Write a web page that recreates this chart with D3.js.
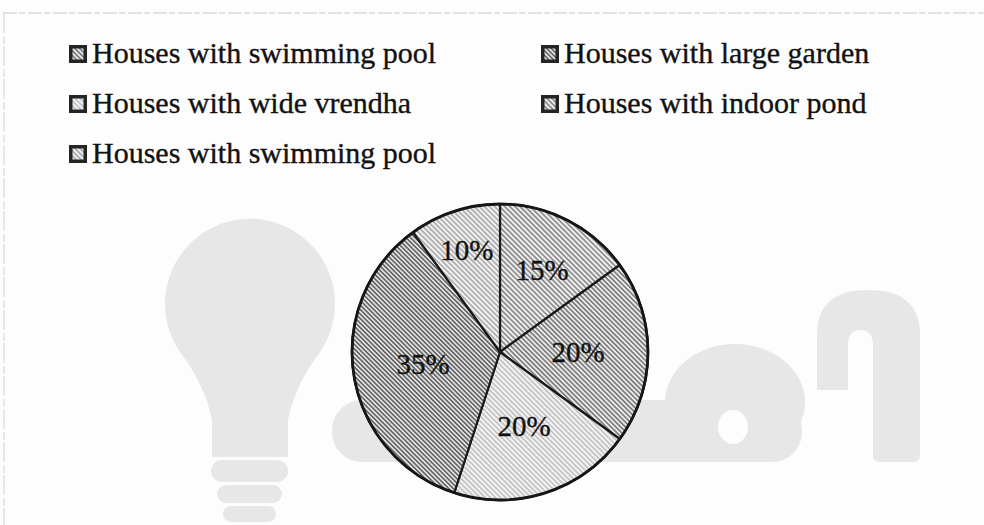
<!DOCTYPE html>
<html>
<head>
<meta charset="utf-8">
<script src="https://cdn.jsdelivr.net/npm/d3@7"></script>
<style>
  html, body { margin: 0; padding: 0; background: #fdfdfd; }
  svg { display: block; }
  text {
    font-family: "Liberation Serif", "Times New Roman", serif;
    fill: #121212;
    stroke: #121212;
    stroke-width: 0.35;
  }
</style>
</head>
<body>
<div class="content"></div>
<script>
//--> Data
const legendLabels = [
  "Houses with swimming pool",
  "Houses with large garden",
  "Houses with wide vrendha",
  "Houses with indoor pond",
  "Houses with swimming pool",
];
const sliceValues = [15, 20, 20, 35, 10];
const sliceLabels = ["15%", "20%", "20%", "35%", "10%"];

//--> Hatch styles for each slice (gap, line width, line colour, background)
const hatchStyles = [
  { gap: 3.6, w: 1.1, color: "#555555", bg: "#f0f0f0" },
  { gap: 3.4, w: 1.2, color: "#505050", bg: "#ebebeb" },
  { gap: 3.6, w: 0.8, color: "#8a8a8a", bg: "#f4f4f4" },
  { gap: 3.2, w: 1.3, color: "#474747", bg: "#e2e2e2" },
  { gap: 3.6, w: 0.9, color: "#6e6e6e", bg: "#f2f2f2" },
];

//--> Set up main elements
const width = 984;
const height = 525;
const cx = 500;
const cy = 352;
const radius = 148;

const svg = d3
  .select(".content")
  .append("svg")
  .attr("width", width)
  .attr("height", height);

const defs = svg.append("defs");

hatchStyles.forEach((s, i) => {
  const p = defs
    .append("pattern")
    .attr("id", `hatch${i}`)
    .attr("patternUnits", "userSpaceOnUse")
    .attr("width", s.gap)
    .attr("height", s.gap)
    .attr("patternTransform", "rotate(-45)");
  p.append("rect").attr("width", s.gap).attr("height", s.gap).attr("fill", s.bg);
  p.append("line")
    .attr("x1", s.gap / 2)
    .attr("x2", s.gap / 2)
    .attr("y1", 0)
    .attr("y2", s.gap)
    .attr("stroke", s.color)
    .attr("stroke-width", s.w);
});

//--> Scan frame
svg.append("line")
  .attr("x1", 3).attr("x2", width).attr("y1", 13).attr("y2", 13)
  .attr("stroke", "#c8c8c8").attr("stroke-width", 1)
  .attr("stroke-dasharray", "14 2 6 3");
svg.append("line")
  .attr("x1", 4).attr("x2", 4).attr("y1", 13).attr("y2", height)
  .attr("stroke", "#d2d2d2").attr("stroke-width", 1)
  .attr("stroke-dasharray", "20 3 8 2");

//--> Watermark (light grey shapes)
const wm = svg.append("g").attr("fill", "#e7e7e7");
wm.append("path")
  .attr("d", "M212 457 L212 420 Q205 385 180 352 A85 85 0 1 1 320 352 Q295 385 288 420 L288 457 Z");
wm.append("rect").attr("x", 211).attr("y", 460).attr("width", 77).attr("height", 22).attr("rx", 11);
wm.append("rect").attr("x", 217).attr("y", 485).attr("width", 65).attr("height", 18).attr("rx", 9);
wm.append("rect").attr("x", 223).attr("y", 506).attr("width", 53).attr("height", 16).attr("rx", 8);
wm.append("rect").attr("x", 332).attr("y", 400).attr("width", 470).attr("height", 62).attr("rx", 30);
wm.append("ellipse").attr("cx", 735).attr("cy", 402).attr("rx", 70).attr("ry", 58);
wm.append("ellipse").attr("cx", 733).attr("cy", 427).attr("rx", 15).attr("ry", 17).attr("fill", "#fdfdfd");
wm.append("path")
  .attr("d", "M817 390 L817 335 Q817 290 868 290 Q920 290 920 335 L920 455 Q920 462 913 462 L880 462 Q873 462 873 455 L873 345 Q873 330 860 330 Q848 330 848 345 L848 390 Z");

//--> Legend
const legend = svg.append("g").attr("id", "legend");
const colX = [69, 541];
const rowY = [45, 95, 145];

const items = legend
  .selectAll("g")
  .data(legendLabels)
  .join("g")
  .attr("transform", (_, i) => `translate(${colX[i % 2]}, ${rowY[Math.floor(i / 2)]})`);

items.append("rect")
  .attr("width", 18)
  .attr("height", 18)
  .attr("fill", "#242424");
items.append("rect")
  .attr("x", 3.5)
  .attr("y", 3.5)
  .attr("width", 11)
  .attr("height", 11)
  .attr("fill", (_, i) => `url(#hatch${[1, 3, 2, 0, 4][i]})`);
items.append("text")
  .attr("x", 23)
  .attr("y", 18)
  .attr("font-size", 30)
  .text(d => d);

//--> Pie
const pie = d3.pie().sort(null).value(d => d);
const arcs = pie(sliceValues);
const arc = d3.arc().innerRadius(0).outerRadius(radius);

const chart = svg.append("g").attr("transform", `translate(${cx}, ${cy})`);

chart.selectAll("path.slice")
  .data(arcs)
  .join("path")
  .attr("class", "slice")
  .attr("d", arc)
  .attr("fill", (_, i) => `url(#hatch${i})`)
  .attr("stroke", "#1a1a1a")
  .attr("stroke-width", 2.2)
  .attr("stroke-linejoin", "round");

chart.append("circle")
  .attr("r", radius)
  .attr("fill", "none")
  .attr("stroke", "#161616")
  .attr("stroke-width", 2.8);

//--> Labels: small slices sit further out
const labelRadius = d => 78 + Math.max(0, 20 - d.data) * 2.9;

chart.selectAll("text.label")
  .data(arcs)
  .join("text")
  .attr("class", "label")
  .attr("font-size", 29)
  .attr("text-anchor", "middle")
  .attr("dy", "0.35em")
  .attr("transform", d => {
    const [x, y] = d3.arc().innerRadius(labelRadius(d)).outerRadius(labelRadius(d)).centroid(d);
    return `translate(${x}, ${y})`;
  })
  .text((_, i) => sliceLabels[i]);
</script>
</body>
</html>
